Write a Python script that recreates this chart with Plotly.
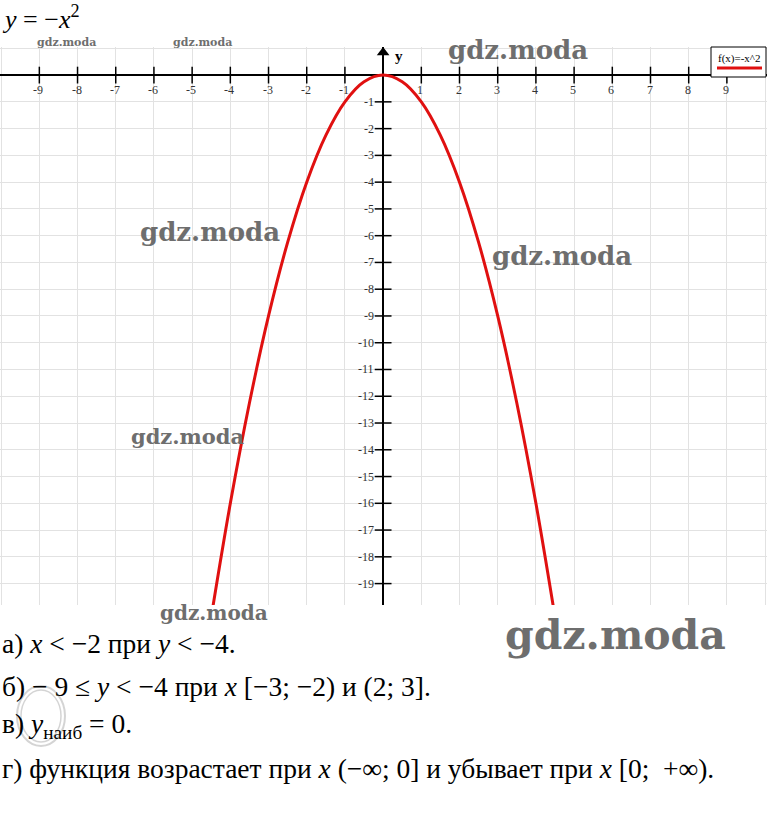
import plotly.graph_objects as go

# ---------------- data ----------------
curve_x = [-4.6, -4.5, -4.0, -3.5, -3.0, -2.5, -2.0, -1.5, -1.0, -0.5, 0.0,
           0.5, 1.0, 1.5, 2.0, 2.5, 3.0, 3.5, 4.0, 4.5, 4.6]
curve_y = [-21.16, -20.25, -16.0, -12.25, -9.0, -6.25, -4.0, -2.25, -1.0, -0.25, 0.0,
           -0.25, -1.0, -2.25, -4.0, -6.25, -9.0, -12.25, -16.0, -20.25, -21.16]
x_ticks = [-9, -8, -7, -6, -5, -4, -3, -2, -1, 1, 2, 3, 4, 5, 6, 7, 8, 9]
x_tick_labels = ["-9", "-8", "-7", "-6", "-5", "-4", "-3", "-2", "-1",
                 "1", "2", "3", "4", "5", "6", "7", "8", "9"]
y_ticks = [-1, -2, -3, -4, -5, -6, -7, -8, -9, -10, -11, -12, -13, -14, -15,
           -16, -17, -18, -19]
y_tick_labels = ["-1", "-2", "-3", "-4", "-5", "-6", "-7", "-8", "-9", "-10", "-11",
                 "-12", "-13", "-14", "-15", "-16", "-17", "-18", "-19"]
legend_label = "f(x)=-x^2"
title_text = "<i>y</i> = −<i>x</i><sup>2</sup>"
answer_lines = [
    "а) <i>x</i> < −2 при <i>y</i> < −4.",
    "б) − 9 ≤ <i>y</i> < −4 при <i>x</i> [−3; −2) и (2; 3].",
    "в) <i>y</i><sub>наиб</sub> = 0.",
    "г) функция возрастает при <i>x</i> (−∞; 0] и убывает при <i>x</i> [0;  +∞).",
]

W, H = 767, 815
PLOT_TOP, PLOT_BOTTOM = 47, 605


def px(p):
    return p / W


def py(p):
    return (PLOT_BOTTOM - p) / (PLOT_BOTTOM - PLOT_TOP)


RED = "#e01010"
SERIF = "Liberation Serif, Times New Roman, serif"
WM_FONT = "DejaVu Serif, serif"

fig = go.Figure()

# curve
fig.add_trace(go.Scatter(x=curve_x, y=curve_y, mode="lines",
                         line=dict(color=RED, width=3, shape="spline", smoothing=1.0),
                         showlegend=False, hoverinfo="skip"))
# x tick marks
fig.add_trace(go.Scatter(x=x_ticks, y=[0] * len(x_ticks), mode="markers",
                         marker=dict(symbol="line-ns", size=12,
                                     line=dict(color="black", width=1.5)),
                         showlegend=False, hoverinfo="skip", cliponaxis=False))
# y tick marks
fig.add_trace(go.Scatter(x=[0] * len(y_ticks), y=y_ticks, mode="markers",
                         marker=dict(symbol="line-ew", size=12,
                                     line=dict(color="black", width=1.5)),
                         showlegend=False, hoverinfo="skip", cliponaxis=False))
# y axis arrow
fig.add_trace(go.Scatter(x=[0], y=[0.84], mode="markers",
                         marker=dict(symbol="triangle-up", size=11, color="black"),
                         showlegend=False, hoverinfo="skip", cliponaxis=False))

annotations = []
for xv, lab in zip(x_ticks, x_tick_labels):
    annotations.append(dict(x=xv, y=0, xref="x", yref="y", text=lab, showarrow=False,
                            yanchor="top", yshift=-6, xshift=-1,
                            font=dict(family=SERIF, size=12, color="#333")))
for yv, lab in zip(y_ticks, y_tick_labels):
    annotations.append(dict(x=0, y=yv, xref="x", yref="y", text=lab, showarrow=False,
                            xanchor="right", xshift=-7,
                            font=dict(family=SERIF, size=12, color="#333")))
# axis name
annotations.append(dict(x=0, y=0.7, xref="x", yref="y", text="<b>y</b>", showarrow=False,
                        xanchor="left", xshift=10, font=dict(family=SERIF, size=15, color="black")))
# title
annotations.append(dict(x=px(0), y=py(18), xref="paper", yref="paper", text=title_text,
                        showarrow=False, xanchor="left", yanchor="middle",
                        font=dict(family=SERIF, size=26, color="black")))
# legend
annotations.append(dict(x=px(739), y=py(59), xref="paper", yref="paper", text=legend_label,
                        showarrow=False, xanchor="center", yanchor="middle",
                        font=dict(family=SERIF, size=11, color="black")))

# watermarks
watermarks = [
    (66, 43, 11), (202, 43, 11), (518, 50, 26), (210, 232, 26), (562, 256, 26),
    (188, 436, 21), (214, 613, 20), (615, 635, 41),
]
for wx, wy, ws in watermarks:
    annotations.append(dict(x=px(wx), y=py(wy), xref="paper", yref="paper", text="<b>gdz.moda</b>",
                            showarrow=False, xanchor="center", yanchor="middle",
                            font=dict(family=WM_FONT, size=ws, color="#6e6e6e")))

# answer text
for txt, ypix in zip(answer_lines, [643, 686, 725, 768]):
    annotations.append(dict(x=0, y=py(ypix), xref="paper", yref="paper", text=txt,
                            showarrow=False, xanchor="left", yanchor="middle",
                            font=dict(family=SERIF, size=27.5, color="black")))

FAINT = "rgba(160,160,160,0.45)"
shapes = [
    dict(type="rect", xref="paper", yref="paper", x0=px(711), x1=px(766), y0=py(77), y1=py(47),
         line=dict(color="black", width=1), fillcolor="white", layer="above"),
    dict(type="line", xref="paper", yref="paper", x0=px(717), x1=px(762), y0=py(68), y1=py(68),
         line=dict(color=RED, width=3), layer="above"),
    # faint copyright mark (drawn as shapes)
    dict(type="circle", xref="paper", yref="paper", xsizemode="pixel", ysizemode="pixel",
         xanchor=px(41), yanchor=py(716), x0=-24, x1=24, y0=-30, y1=30,
         line=dict(color=FAINT, width=2), layer="above"),
    dict(type="circle", xref="paper", yref="paper", xsizemode="pixel", ysizemode="pixel",
         xanchor=px(41), yanchor=py(716), x0=-20, x1=20, y0=-26, y1=26,
         line=dict(color=FAINT, width=1.5), layer="above"),
    dict(type="path", xref="paper", yref="paper", xsizemode="pixel", ysizemode="pixel",
         xanchor=px(41), yanchor=py(716),
         path="M 9,-14 A 12 16 0 1 1 9 14",
         line=dict(color=FAINT, width=3), layer="above"),
]

fig.update_layout(
    width=W, height=H,
    margin=dict(l=0, r=0, t=PLOT_TOP, b=H - PLOT_BOTTOM, pad=0),
    paper_bgcolor="white", plot_bgcolor="white",
    showlegend=False,
    annotations=annotations,
    shapes=shapes,
    xaxis=dict(range=[-10.03, 10.05], dtick=1, tick0=0, showgrid=True, gridcolor="#e2e2e2",
               gridwidth=1, zeroline=True, zerolinecolor="black", zerolinewidth=2,
               showticklabels=False, ticks="", showline=False, fixedrange=True),
    yaxis=dict(range=[-19.8, 1.05], dtick=1, tick0=0, showgrid=True, gridcolor="#e2e2e2",
               gridwidth=1, zeroline=True, zerolinecolor="black", zerolinewidth=2,
               showticklabels=False, ticks="", showline=False, fixedrange=True),
)

fig.write_html("out.html", config={"displayModeBar": False},
               post_script="document.body.style.margin='0';document.body.style.overflow='hidden';")
